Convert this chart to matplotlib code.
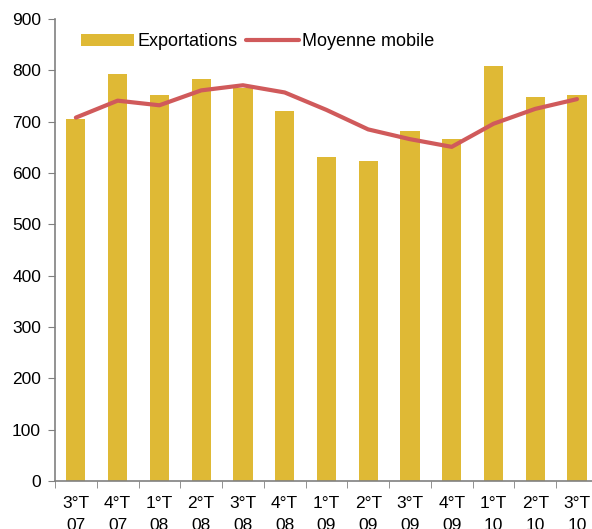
import matplotlib.pyplot as plt
import numpy as np

plt.rcParams['font.family'] = ['Liberation Sans', 'DejaVu Sans']

# trimestres
trimestres = ['3°T\n07', '4°T\n07', '1°T\n08', '2°T\n08', '3°T\n08', '4°T\n08', '1°T\n09',
              '2°T\n09', '3°T\n09', '4°T\n09', '1°T\n10', '2°T\n10', '3°T\n10']
exportations = [705, 792, 753, 784, 765, 721, 631, 623, 682, 666, 808, 749, 753]
moyenne_mobile = [708, 741, 732, 761, 771, 757, 723, 685, 666, 651, 696, 725, 744]

gold = '#DFB935'
red = '#D05A5B'

fig = plt.figure(figsize=(5.92, 5.29), dpi=100)
ax = fig.add_axes([0.0929, 0.0907, 0.917, 0.8733])

x = np.arange(len(trimestres))
barres = ax.bar(x, exportations, width=0.46, color=gold, label='Exportations', zorder=2)
ligne, = ax.plot(x, moyenne_mobile, color=red, lw=3, label='Moyenne mobile', zorder=3,
                 solid_capstyle='round')

ax.set_xlim(-0.5, len(trimestres) - 0.5)
ax.set_ylim(0, 900)
ax.set_yticks(range(0, 901, 100))

ax.set_xticks(x)
ax.set_xticklabels(trimestres, fontsize=12.5, linespacing=1.55)
ax.set_xticks(np.arange(-0.5, len(trimestres)), minor=True)
ax.tick_params(axis='x', which='major', length=0, pad=11)
ax.tick_params(axis='x', which='minor', length=5, color='#808080', direction='out')
ax.tick_params(axis='y', labelsize=12.5, length=5, color='#808080', pad=5)

for s in ['top', 'right']:
    ax.spines[s].set_visible(False)
for s in ['left', 'bottom']:
    ax.spines[s].set_color('#808080')
    ax.spines[s].set_linewidth(1.2)

ax.legend([barres, ligne], ['Exportations', 'Moyenne mobile'],
          loc='upper left', bbox_to_anchor=(0.035, 0.985), ncol=2, frameon=False,
          fontsize=13, handlelength=2.9, handletextpad=0.2, columnspacing=0.5,
          borderaxespad=0)

plt.savefig('out.png', dpi=100)
